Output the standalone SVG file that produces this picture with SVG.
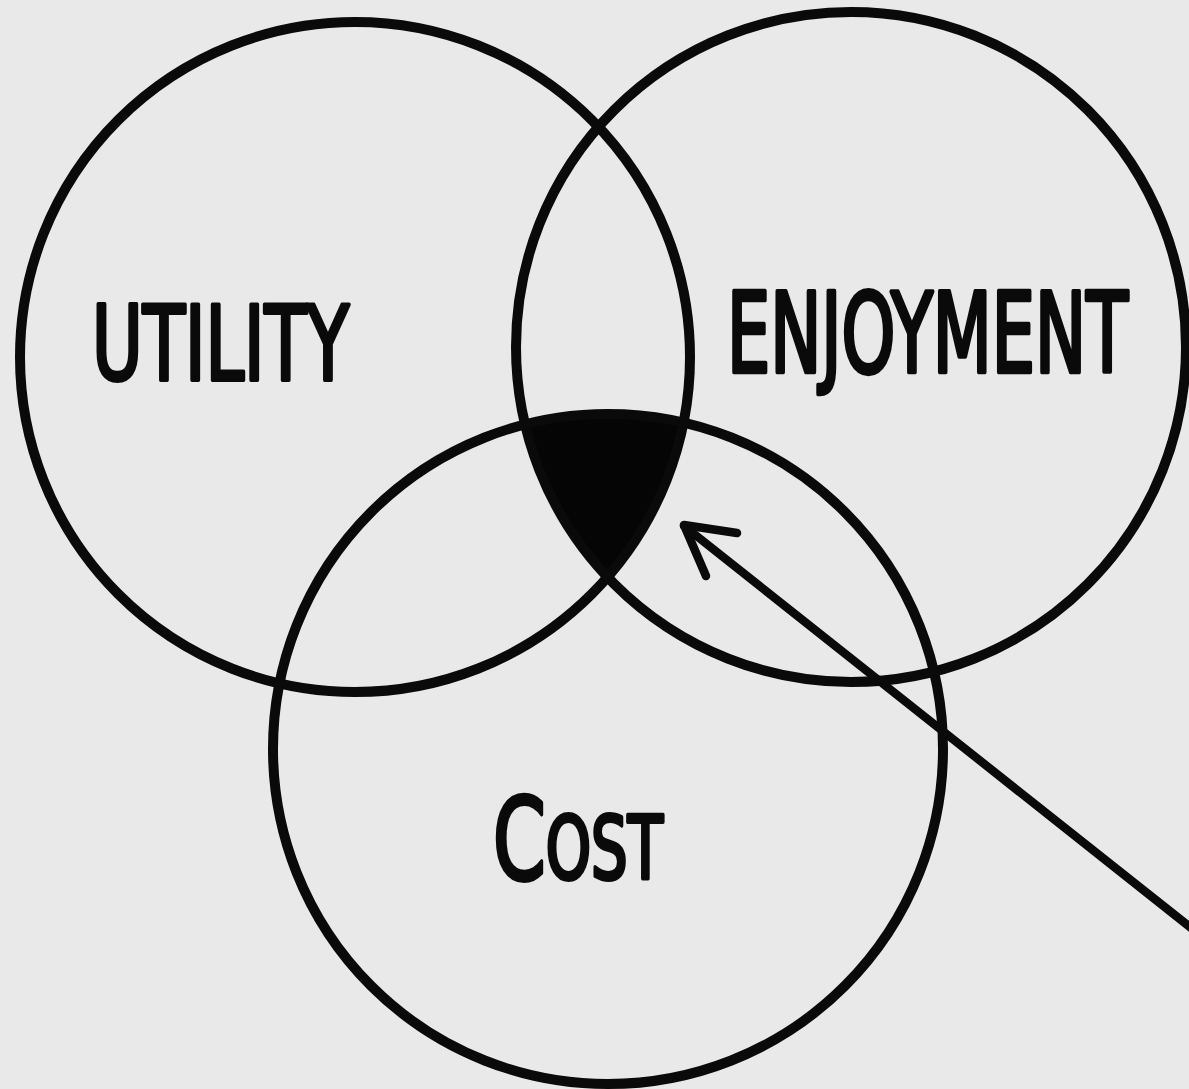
<svg xmlns="http://www.w3.org/2000/svg" width="1189" height="1089" viewBox="0 0 1189 1089">
  <style>
    .ring { fill: none; stroke: #0a0a0a; stroke-width: 10; }
    .label { font-family: "DejaVu Sans Condensed", "DejaVu Sans", sans-serif; fill: #0a0a0a; stroke: #0a0a0a; stroke-width: 3; stroke-linejoin: round; }
    .conn { fill: none; stroke: #0a0a0a; stroke-width: 8.5; stroke-linecap: round; stroke-linejoin: round; }
  </style>
  <defs>
    <clipPath id="clipU"><circle cx="355" cy="357" r="335"/></clipPath>
    <clipPath id="clipE"><circle cx="851" cy="347" r="335"/></clipPath>
  </defs>
  <rect x="0" y="0" width="1189" height="1089" fill="#e9e9e9"/>

  <g id="intersection">
    <g clip-path="url(#clipU)">
      <g clip-path="url(#clipE)">
        <circle cx="608" cy="749" r="335" fill="#050505"/>
      </g>
    </g>
  </g>

  <g id="utility">
    <circle class="ring" cx="355" cy="357" r="335"/>
    <text class="label" transform="translate(92,380) scale(1,1.34)" x="0" y="0" font-size="77">UTILITY</text>
  </g>

  <g id="enjoyment">
    <circle class="ring" cx="851" cy="347" r="335"/>
    <text class="label" transform="translate(727,372) scale(1,1.45)" x="0" y="0" font-size="76">ENJOYMENT</text>
  </g>

  <g id="cost">
    <circle class="ring" cx="608" cy="749" r="335"/>
    <text class="label" transform="translate(493,879) scale(1,1.36)" x="0" y="0" font-size="84">C<tspan font-size="64">OST</tspan></text>
  </g>

  <g id="connectors">
    <line class="conn" x1="1195" y1="931" x2="684" y2="526"/>
    <polyline class="conn" points="737,533 684,525 706,576"/>
  </g>
</svg>
